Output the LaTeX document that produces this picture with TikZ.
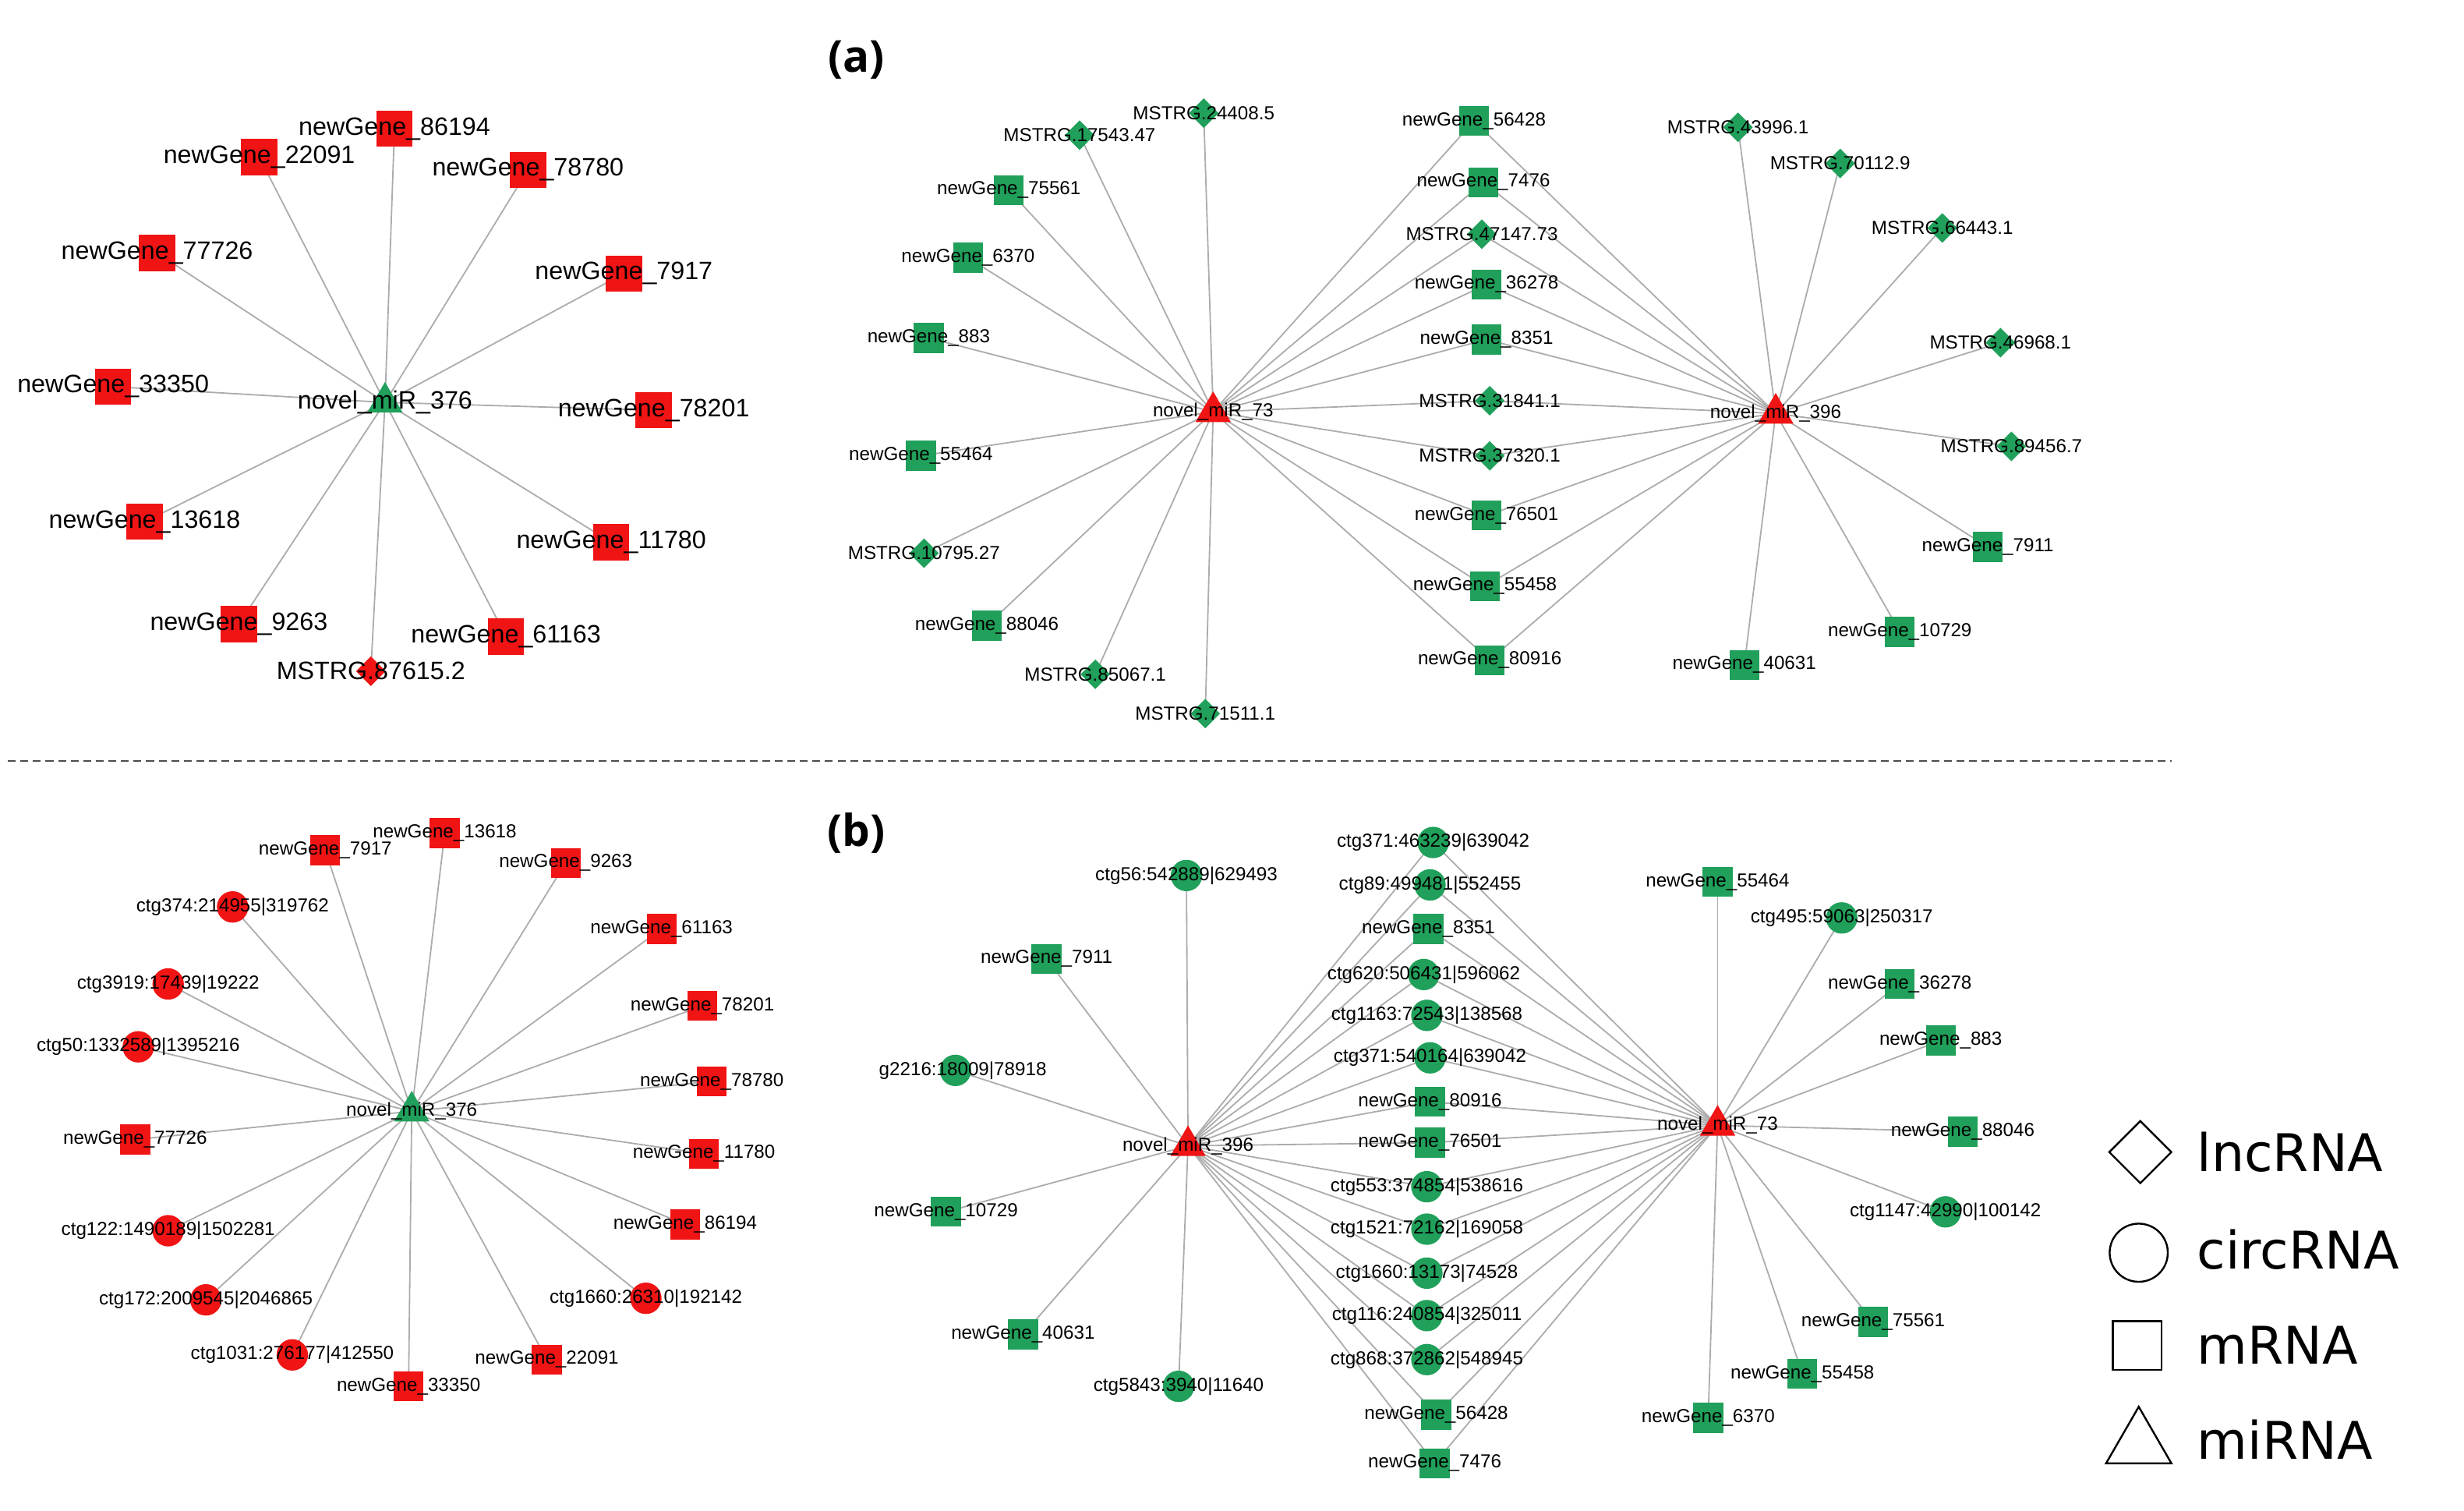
\documentclass[tikz,border=0pt]{standalone}
\usepackage{fontspec}
\setmainfont{Liberation Sans}
\newfontfamily\legfont{Open Sans}
\newfontfamily\legwide{DejaVu Sans}
\usetikzlibrary{shapes.geometric,backgrounds}
\definecolor{gr}{RGB}{32,160,90}
\definecolor{rd}{RGB}{240,20,20}
\tikzset{
 sq/.style={rectangle,minimum size=19pt,inner sep=0,fill=#1},
 bsq/.style={rectangle,minimum size=23pt,inner sep=0,fill=#1},
 dm/.style={diamond,minimum size=19pt,inner sep=0,fill=#1},
 ci/.style={circle,minimum size=20pt,inner sep=0,fill=#1},
 tr/.style={regular polygon,regular polygon sides=3,minimum size=26pt,inner sep=0,fill=#1},
 lab/.style={font=\fontsize{12}{12}\selectfont,inner sep=0},
 blab/.style={font=\fontsize{16}{16}\selectfont,inner sep=0},
 edge/.style={draw=gray!65,line width=0.9pt},
 leg/.style={draw=black,fill=none,line width=1.2pt},
}
\newcommand{\nd}[5]{\node[#1] (#2) at (#3) {}; \node[lab] at (#3) {#5};}
\newcommand{\bnd}[5]{\node[#1] (#2) at (#3) {}; \node[blab] at (#3) {#5};}
\begin{document}
\begin{tikzpicture}[x=1pt,y=-1pt]
\useasboundingbox (0,0) rectangle (1568,961);
% ---------- (a) left
\bnd{tr=gr}{A0}{245,256}{}{novel\_miR\_376}
\bnd{bsq=rd}{A1}{251,82}{}{newGene\_86194}
\bnd{bsq=rd}{A2}{165,100}{}{newGene\_22091}
\bnd{bsq=rd}{A3}{336,108}{}{newGene\_78780}
\bnd{bsq=rd}{A4}{100,161}{}{newGene\_77726}
\bnd{bsq=rd}{A5}{397,174}{}{newGene\_7917}
\bnd{bsq=rd}{A6}{72,246}{}{newGene\_33350}
\bnd{bsq=rd}{A7}{416,261}{}{newGene\_78201}
\bnd{bsq=rd}{A8}{92,332}{}{newGene\_13618}
\bnd{bsq=rd}{A9}{389,345}{}{newGene\_11780}
\bnd{bsq=rd}{A10}{152,397}{}{newGene\_9263}
\bnd{bsq=rd}{A11}{322,405}{}{newGene\_61163}
\bnd{dm=rd}{A12}{236,427}{}{MSTRG.87615.2}
% ---------- (a) right
\nd{tr=rd}{B0}{772,262}{}{novel\_miR\_73}
\nd{tr=rd}{C0}{1130,263}{}{novel\_miR\_396}
\nd{dm=gr}{B1}{766,72}{}{MSTRG.24408.5}
\nd{dm=gr}{B2}{687,86}{}{MSTRG.17543.47}
\nd{sq=gr}{B3}{642,121}{}{newGene\_75561}
\nd{sq=gr}{B4}{616,164}{}{newGene\_6370}
\nd{sq=gr}{B5}{591,215}{}{newGene\_883}
\nd{sq=gr}{B6}{586,290}{}{newGene\_55464}
\nd{dm=gr}{B7}{588,352}{}{MSTRG.10795.27}
\nd{sq=gr}{B8}{628,398}{}{newGene\_88046}
\nd{dm=gr}{B9}{697,429}{}{MSTRG.85067.1}
\nd{dm=gr}{B10}{767,454}{}{MSTRG.71511.1}
\nd{sq=gr}{M1}{938,77}{}{newGene\_56428}
\nd{sq=gr}{M2}{944,116}{}{newGene\_7476}
\nd{dm=gr}{M3}{943,149}{}{MSTRG.47147.73}
\nd{sq=gr}{M4}{946,181}{}{newGene\_36278}
\nd{sq=gr}{M5}{946,216}{}{newGene\_8351}
\nd{dm=gr}{M6}{948,255}{}{MSTRG.31841.1}
\nd{dm=gr}{M7}{948,290}{}{MSTRG.37320.1}
\nd{sq=gr}{M8}{946,328}{}{newGene\_76501}
\nd{sq=gr}{M9}{945,373}{}{newGene\_55458}
\nd{sq=gr}{M10}{948,420}{}{newGene\_80916}
\nd{dm=gr}{C1}{1106,81}{}{MSTRG.43996.1}
\nd{dm=gr}{C2}{1171,104}{}{MSTRG.70112.9}
\nd{dm=gr}{C3}{1236,145}{}{MSTRG.66443.1}
\nd{dm=gr}{C4}{1273,218}{}{MSTRG.46968.1}
\nd{dm=gr}{C5}{1280,284}{}{MSTRG.89456.7}
\nd{sq=gr}{C6}{1265,348}{}{newGene\_7911}
\nd{sq=gr}{C7}{1209,402}{}{newGene\_10729}
\nd{sq=gr}{C8}{1110,423}{}{newGene\_40631}
% ---------- (b) left
\nd{tr=gr}{D0}{262,707}{}{novel\_miR\_376}
\nd{sq=rd}{D1}{283,530}{}{newGene\_13618}
\nd{sq=rd}{D2}{207,541}{}{newGene\_7917}
\nd{sq=rd}{D3}{360,549}{}{newGene\_9263}
\nd{ci=rd}{D4}{148,577}{}{ctg374:214955|319762}
\nd{sq=rd}{D5}{421,591}{}{newGene\_61163}
\nd{ci=rd}{D6}{107,626}{}{ctg3919:17439|19222}
\nd{sq=rd}{D7}{447,640}{}{newGene\_78201}
\nd{ci=rd}{D8}{88,666}{}{ctg50:1332589|1395216}
\nd{sq=rd}{D9}{453,688}{}{newGene\_78780}
\nd{sq=rd}{D10}{86,725}{}{newGene\_77726}
\nd{sq=rd}{D11}{448,734}{}{newGene\_11780}
\nd{sq=rd}{D12}{436,779}{}{newGene\_86194}
\nd{ci=rd}{D13}{107,783}{}{ctg122:1490189|1502281}
\nd{ci=rd}{D14}{131,827}{}{ctg172:2009545|2046865}
\nd{ci=rd}{D15}{411,826}{}{ctg1660:26310|192142}
\nd{ci=rd}{D16}{186,862}{}{ctg1031:276177|412550}
\nd{sq=rd}{D17}{348,865}{}{newGene\_22091}
\nd{sq=rd}{D18}{260,882}{}{newGene\_33350}
% ---------- (b) right
\nd{tr=rd}{E0}{756,729}{}{novel\_miR\_396}
\nd{tr=rd}{F0}{1093,716}{}{novel\_miR\_73}
\nd{ci=gr}{E1}{755,557}{}{ctg56:542889|629493}
\nd{sq=gr}{E2}{666,610}{}{newGene\_7911}
\nd{ci=gr}{E3}{608,681}{}{\phantom{ct}g2216:18009|78918}
\nd{sq=gr}{E4}{602,771}{}{newGene\_10729}
\nd{sq=gr}{E5}{651,849}{}{newGene\_40631}
\nd{ci=gr}{E6}{750,882}{}{ctg5843:3940|11640}
\nd{ci=gr}{N1}{912,536}{}{ctg371:463239|639042}
\nd{ci=gr}{N2}{910,563}{}{ctg89:499481|552455}
\nd{sq=gr}{N3}{909,591}{}{newGene\_8351}
\nd{ci=gr}{N4}{906,620}{}{ctg620:506431|596062}
\nd{ci=gr}{N5}{908,646}{}{ctg1163:72543|138568}
\nd{ci=gr}{N6}{910,673}{}{ctg371:540164|639042}
\nd{sq=gr}{N7}{910,701}{}{newGene\_80916}
\nd{sq=gr}{N8}{910,727}{}{newGene\_76501}
\nd{ci=gr}{N9}{908,755}{}{ctg553:374854|538616}
\nd{ci=gr}{N10}{908,782}{}{ctg1521:72162|169058}
\nd{ci=gr}{N11}{908,810}{}{ctg1660:13173|74528}
\nd{ci=gr}{N12}{908,837}{}{ctg116:240854|325011}
\nd{ci=gr}{N13}{908,865}{}{ctg868:372862|548945}
\nd{sq=gr}{N14}{914,900}{}{newGene\_56428}
\nd{sq=gr}{N15}{913,931}{}{newGene\_7476}
\nd{sq=gr}{F1}{1093,561}{}{newGene\_55464}
\nd{ci=gr}{F2}{1172,584}{}{ctg495:59063|250317}
\nd{sq=gr}{F3}{1209,626}{}{newGene\_36278}
\nd{sq=gr}{F4}{1235,662}{}{newGene\_883}
\nd{sq=gr}{F5}{1249,720}{}{newGene\_88046}
\nd{ci=gr}{F6}{1238,771}{}{ctg1147:42990|100142}
\nd{sq=gr}{F7}{1192,841}{}{newGene\_75561}
\nd{sq=gr}{F8}{1147,874}{}{newGene\_55458}
\nd{sq=gr}{F9}{1087,902}{}{newGene\_6370}
% ---------- edges
\begin{pgfonlayer}{background}
\foreach \n in {1,...,12} \draw[edge] (A0.center) -- (A\n.center);
\foreach \n in {1,...,10} \draw[edge] (B0.center) -- (B\n.center);
\foreach \n in {1,...,8} \draw[edge] (C0.center) -- (C\n.center);
\foreach \n in {1,...,10} {\draw[edge] (B0.center) -- (M\n.center); \draw[edge] (C0.center) -- (M\n.center);}
\foreach \n in {1,...,18} \draw[edge] (D0.center) -- (D\n.center);
\foreach \n in {1,...,6} \draw[edge] (E0.center) -- (E\n.center);
\foreach \n in {1,...,9} \draw[edge] (F0.center) -- (F\n.center);
\foreach \n in {1,...,15} {\draw[edge] (E0.center) -- (N\n.center); \draw[edge] (F0.center) -- (N\n.center);}
\end{pgfonlayer}
% ---------- panel labels, divider
\node[font=\legfont\bfseries\fontsize{28}{28}\selectfont] (la) at (545,38) {(a)};
\node[font=\legfont\bfseries\fontsize{28}{28}\selectfont] (lb) at (545,530) {(b)};
\coordinate (d1) at (5,484); \coordinate (d2) at (1382,484);
\draw[dash pattern=on 5pt off 3pt,line width=0.9pt,black!70] (d1) -- (d2);
% ---------- legend
\node[leg,diamond,minimum size=40pt,inner sep=0] (g1) at (1362,733) {};
\node[leg,circle,minimum size=37pt,inner sep=0] (g2) at (1361,797) {};
\node[leg,rectangle,minimum size=31pt,inner sep=0] (g3) at (1360,856) {};
\node[leg,regular polygon,regular polygon sides=3,minimum size=48pt,inner sep=0] (g4) at (1361,919) {};
\foreach \t/\y/\g in {lncRNA/733/t1,circRNA/795/t2,mRNA/856/t3,miRNA/916/t4}
  \node[anchor=west,font=\legwide\fontsize{33}{33}\selectfont,inner sep=0] (\g) at (1398,\y) {\t};
\end{tikzpicture}
\end{document}
